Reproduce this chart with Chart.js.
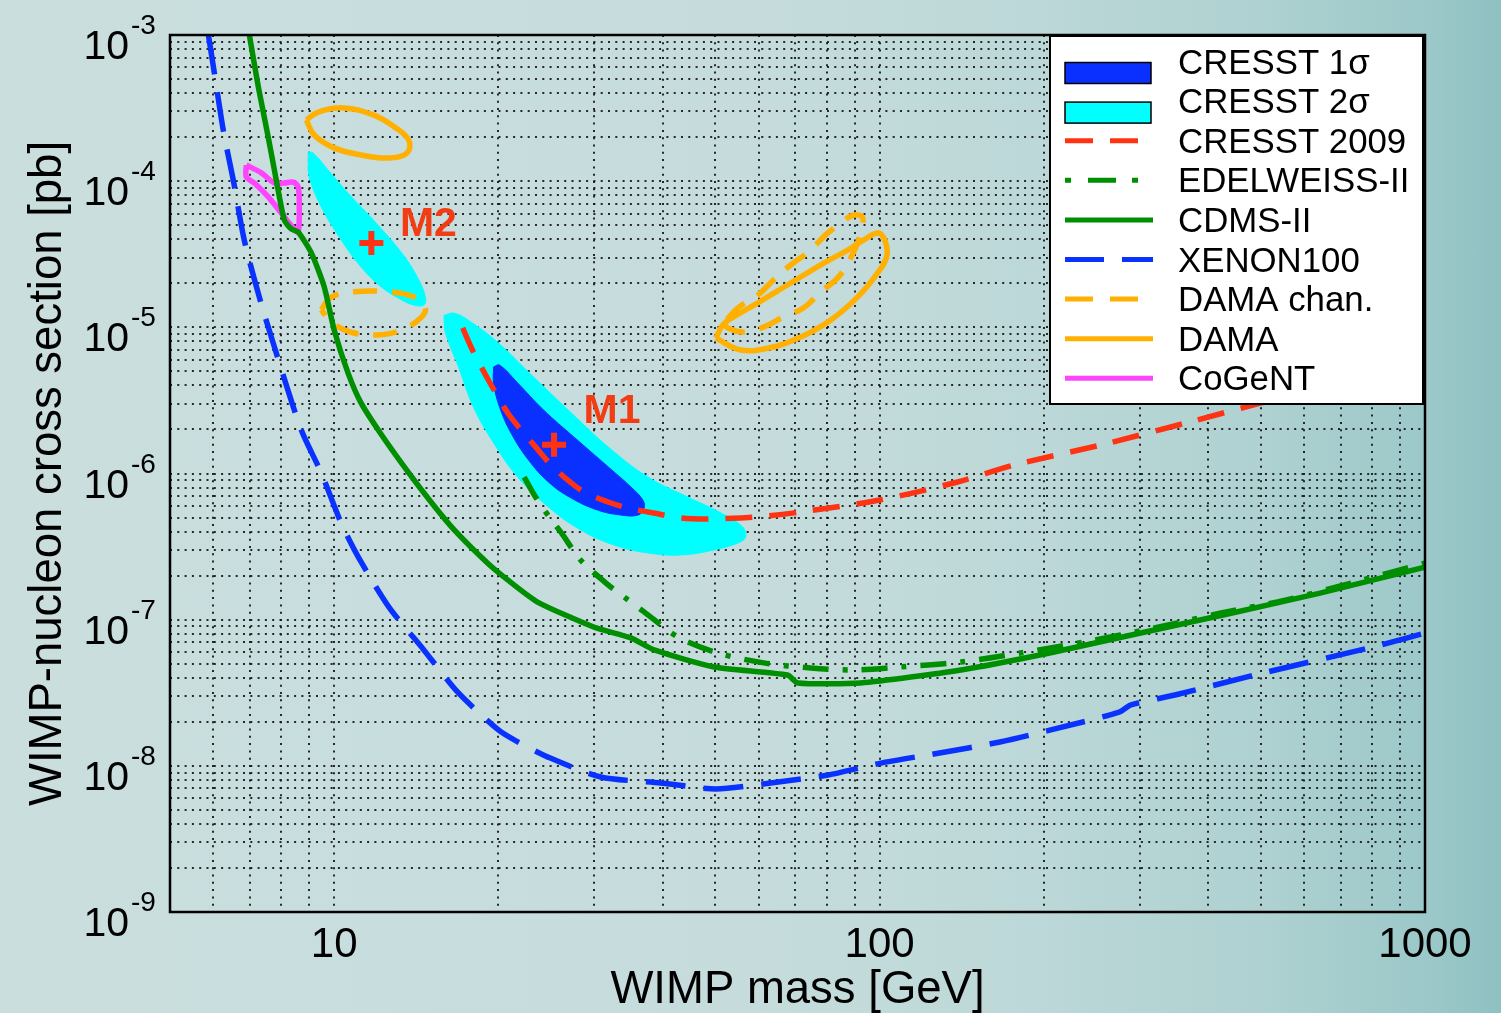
<!DOCTYPE html>
<html>
<head>
<meta charset="utf-8">
<title>WIMP exclusion limits</title>
<script src="https://cdn.jsdelivr.net/npm/chart.js@4.4.1/dist/chart.umd.min.js"></script>
<style>
  html, body { margin: 0; padding: 0; overflow: hidden; }
  body {
    width: 1501px; height: 1013px;
    background: linear-gradient(90deg, #cadede 0%, #c6dcdc 50%, #bdd8d8 68%, #afd1d1 84%, #9cc8c9 95%, #8fc1c2 100%);
  }
  #wrap { position: relative; width: 1501px; height: 1013px; }
</style>
</head>
<body>
<div id="wrap"><canvas id="limitChart"></canvas></div>
<script>
// WIMP mass [GeV] / cross section [pb]
const xenonMass = [5.88, 6.03, 6.26, 6.53, 6.84, 7.29, 7.77, 8.70, 9.47, 10.3, 11.1, 12.6, 14.6, 16.9, 20.0, 21.7, 24.9, 30.8, 39.7, 50.1, 63.1, 80.4, 100, 128, 167, 206, 275, 289, 348, 505, 803, 1000];
const xenonXsec = [1.0e-3, 5.5e-4, 2.24e-4, 1.02e-4, 3.96e-5, 1.61e-5, 7.33e-6, 1.99e-6, 1.01e-6, 4.58e-7, 2.64e-7, 1.22e-7, 6.21e-8, 3.15e-8, 1.76e-8, 1.46e-8, 1.13e-8, 8.39e-9, 7.64e-9, 6.95e-9, 7.64e-9, 8.65e-9, 1.04e-8, 1.22e-8, 1.46e-8, 1.76e-8, 2.33e-8, 2.61e-8, 3.05e-8, 4.32e-8, 6.50e-8, 8.11e-8];

const cdmsMass = [6.99, 7.26, 7.57, 7.83, 8.10, 8.34, 8.59, 9.08, 9.59, 10.0, 10.6, 11.2, 12.2, 13.7, 15.1, 16.6, 19.1, 20.8, 23.6, 29.9, 35.0, 38.6, 49.7, 67.8, 70.8, 92.3, 141, 205, 301, 443, 642, 1000];
const cdmsXsec = [1.0e-3, 4.41e-4, 2.00e-4, 1.02e-4, 5.42e-5, 4.71e-5, 4.49e-5, 3.23e-5, 1.89e-5, 9.59e-6, 4.88e-6, 3.04e-6, 1.85e-6, 1.01e-6, 6.28e-7, 4.11e-7, 2.44e-7, 1.87e-7, 1.32e-7, 8.91e-8, 7.50e-8, 6.21e-8, 4.75e-8, 4.18e-8, 3.69e-8, 3.69e-8, 4.53e-8, 5.92e-8, 8.11e-8, 1.11e-7, 1.52e-7, 2.29e-7];

const edwMass = [22.3, 23.4, 24.8, 26.1, 28.3, 31.5, 34.0, 37.0, 42.7, 50.5, 61.3, 74.8, 89.6, 109, 141, 181, 237, 319, 423, 554, 732, 1000];
const edwXsec = [9.46e-7, 6.90e-7, 5.04e-7, 3.92e-7, 2.56e-7, 1.78e-7, 1.43e-7, 1.13e-7, 7.61e-8, 5.92e-8, 5.06e-8, 4.67e-8, 4.53e-8, 4.75e-8, 5.13e-8, 5.92e-8, 7.03e-8, 8.77e-8, 1.11e-7, 1.36e-7, 1.78e-7, 2.44e-7];

const cresst09Mass = [17.2, 18.0, 19.4, 20.8, 22.0, 23.4, 24.8, 26.4, 28.7, 31.8, 34.5, 38.5, 43.2, 48.4, 55.6, 62.4, 71.6, 100, 139, 176, 255, 370, 499, 1000];
const cresst09Xsec = [9.90e-6, 6.78e-6, 4.03e-6, 2.60e-6, 1.99e-6, 1.52e-6, 1.18e-6, 9.46e-7, 7.47e-7, 6.38e-7, 5.81e-7, 5.37e-7, 4.97e-7, 4.89e-7, 4.97e-7, 5.12e-7, 5.45e-7, 6.59e-7, 8.75e-7, 1.14e-6, 1.57e-6, 2.25e-6, 3.03e-6, 5.79e-6];

// closed contours
const damaLowMass = [8.89, 9.35, 10.4, 11.8, 12.9, 13.7, 13.6, 12.6, 11.2, 10.0, 9.19];
const damaLowXsec = [2.62e-4, 2.97e-4, 3.17e-4, 2.84e-4, 2.35e-4, 1.91e-4, 1.56e-4, 1.44e-4, 1.51e-4, 1.69e-4, 2.07e-4];
const damaHighMass = [50.1, 55.6, 63.9, 71.7, 81.3, 91.1, 99.2, 103, 102.5, 99.5, 93.5, 87.4, 79.0, 68.7, 59.8, 54.0, 51.6];
const damaHighXsec = [8.45e-6, 7.00e-6, 7.34e-6, 8.59e-6, 1.12e-5, 1.61e-5, 2.36e-5, 3.03e-5, 3.84e-5, 4.42e-5, 3.96e-5, 3.38e-5, 2.75e-5, 2.01e-5, 1.47e-5, 1.18e-5, 1.04e-5];

const damaChanLowMass = [9.47, 9.87, 10.9, 12.6, 14.0, 14.7, 14.4, 13.3, 12.0, 10.7, 9.87];
const damaChanLowXsec = [1.32e-5, 1.61e-5, 1.75e-5, 1.75e-5, 1.61e-5, 1.36e-5, 1.16e-5, 9.59e-6, 8.87e-6, 9.29e-6, 1.09e-5];
const damaChanHighMass = [51.8, 52.7, 56.1, 61.1, 66.7, 72.6, 78.0, 83.8, 88.5, 92.0, 93.1, 89.6, 85.5, 79.6, 74.8, 68.7, 63.9, 59.8, 55.0];
const damaChanHighXsec = [1.07e-5, 9.89e-6, 9.29e-6, 1.00e-5, 1.18e-5, 1.36e-5, 1.75e-5, 2.18e-5, 2.98e-5, 4.20e-5, 5.60e-5, 5.87e-5, 5.26e-5, 4.29e-5, 3.38e-5, 2.67e-5, 2.11e-5, 1.66e-5, 1.36e-5];

const cogentMass = [6.90, 7.35, 7.77, 8.10, 8.41, 8.59, 8.63, 8.59, 8.41, 8.00, 7.57, 7.14, 6.90];
const cogentXsec = [1.29e-4, 1.14e-4, 9.71e-5, 9.71e-5, 9.86e-5, 9.12e-5, 6.65e-5, 4.49e-5, 4.79e-5, 6.05e-5, 7.80e-5, 9.71e-5, 1.07e-4];

const cresst2sLowMass = [8.96, 9.15, 9.75, 10.6, 11.8, 13.3, 14.2, 14.7, 14.6, 14.0, 13.3, 12.2, 11.2, 10.3, 9.47, 9.00, 8.96];
const cresst2sLowXsec = [1.58e-4, 1.56e-4, 1.19e-4, 8.29e-5, 5.42e-5, 3.23e-5, 2.21e-5, 1.61e-5, 1.42e-5, 1.42e-5, 1.54e-5, 1.89e-5, 2.59e-5, 3.96e-5, 6.65e-5, 1.07e-4, 1.40e-4];
const cresst2sHighMass = [15.9, 16.6, 17.8, 20.0, 23.0, 27.2, 31.8, 37.6, 44.5, 51.2, 56.1, 56.8, 55.0, 49.7, 43.2, 37.6, 32.6, 28.3, 24.7, 21.7, 19.6, 18.0, 16.9, 16.0, 15.9];
const cresst2sHighXsec = [1.21e-5, 1.25e-5, 1.09e-5, 7.82e-6, 4.72e-6, 2.60e-6, 1.52e-6, 9.46e-7, 6.90e-7, 5.37e-7, 4.31e-7, 3.68e-7, 3.35e-7, 3.00e-7, 2.77e-7, 2.86e-7, 3.24e-7, 4.11e-7, 5.90e-7, 9.46e-7, 1.62e-6, 2.85e-6, 5.36e-6, 9.14e-6, 1.16e-5];
const cresst1sMass = [19.6, 20.1, 21.7, 24.2, 27.5, 31.8, 35.0, 36.8, 37.0, 36.1, 33.5, 30.4, 27.2, 24.7, 22.7, 21.1, 20.1, 19.6];
const cresst1sXsec = [5.36e-6, 5.52e-6, 4.16e-6, 2.72e-6, 1.78e-6, 1.11e-6, 8.09e-7, 6.59e-7, 5.81e-7, 5.20e-7, 5.20e-7, 5.62e-7, 6.79e-7, 8.75e-7, 1.24e-6, 1.89e-6, 2.85e-6, 4.16e-6];

// best fit points
const bestFitLabels = ['M1', 'M2'];
const bestFitMass = [25.3, 11.7];
const bestFitXsec = [1.57e-6, 3.78e-5];

// axes
const xRange = [5, 1000];
const yRange = [1e-9, 1e-3];
const xTickLabels = [10, 100, 1000];
const yTickPowers = [-3, -4, -5, -6, -7, -8, -9];
const legendLabels = ['CRESST 1σ', 'CRESST 2σ', 'CRESST 2009', 'EDELWEISS-II', 'CDMS-II', 'XENON100', 'DAMA chan.', 'DAMA', 'CoGeNT'];

const font = '"Liberation Sans", Arial, Helvetica, sans-serif';
const red = '#ff3314';
const styles = {
  'CRESST 1σ':    { fill: '#0a30ff' },
  'CRESST 2σ':    { fill: '#00ffff' },
  'CRESST 2009':  { color: red,       dash: [27, 17], legendDash: [28, 17] },
  'EDELWEISS-II': { color: '#008f00', dash: [26, 14, 5, 14], legendDash: [6, 17, 28, 16] },
  'CDMS-II':      { color: '#008f00', dash: [] },
  'XENON100':     { color: '#0a32ff', dash: [40, 18], legendDash: [39, 18] },
  'DAMA chan.':   { color: '#ffb000', dash: [24, 15], legendDash: [28, 17] },
  'DAMA':         { color: '#ffb000', dash: [] },
  'CoGeNT':       { color: '#ff44ff', dash: [] }
};

function pts(mass, xsec) {
  return mass.map((m, i) => ({ x: m, y: xsec[i] }));
}
function loop(mass, xsec) {
  const p = pts(mass, xsec);
  p.push({ x: mass[0], y: xsec[0] });
  return p;
}

// grid at 1..9 x 10^n
function gridValues(lo, hi) {
  const out = [];
  for (let e = Math.floor(Math.log10(lo)); e <= Math.ceil(Math.log10(hi)); e++) {
    for (let k = 1; k < 10; k++) {
      const v = Number((k * Math.pow(10, e)).toPrecision(3));
      if (v >= lo && v <= hi) out.push(v);
    }
  }
  return out;
}
const xGrid = gridValues(xRange[0], xRange[1]);
const yGrid = gridValues(yRange[0], yRange[1]);

function curve(name, data, tension) {
  const s = styles[name];
  return {
    label: name, data: data, showLine: true, pointRadius: 0,
    borderColor: s.color, borderWidth: 5.5, borderDash: s.dash,
    borderCapStyle: 'butt', tension: tension, fill: false
  };
}
function area(name, data) {
  const s = styles[name];
  return {
    label: name, data: data, showLine: true, pointRadius: 0,
    borderColor: s.fill, borderWidth: 1, backgroundColor: s.fill,
    tension: 0.4, fill: 'shape'
  };
}

const overlay = {
  id: 'overlay',
  afterDraw(chart) {
    const ctx = chart.ctx;
    const a = chart.chartArea;
    const sx = chart.scales.x, sy = chart.scales.y;
    ctx.save();

    // frame
    ctx.strokeStyle = '#000';
    ctx.lineWidth = 2.5;
    ctx.strokeRect(a.left, a.top, a.right - a.left, a.bottom - a.top);

    // best fit labels
    ctx.fillStyle = '#f23c14';
    ctx.font = 'bold 41px ' + font;
    ctx.textAlign = 'center';
    ctx.textBaseline = 'alphabetic';
    const offs = [[58, -37], [57, -22]];
    bestFitLabels.forEach((t, i) => {
      const px = sx.getPixelForValue(bestFitMass[i]) + offs[i][0];
      const py = sy.getPixelForValue(bestFitXsec[i]) + offs[i][1];
      ctx.fillText(t, px, py + 15);
    });

    // tick labels
    ctx.fillStyle = '#000';
    ctx.font = '42px ' + font;
    xTickLabels.forEach(v => {
      ctx.fillText(String(v), sx.getPixelForValue(v), a.bottom + 45);
    });
    yTickPowers.forEach(p => {
      const y = sy.getPixelForValue(Math.pow(10, p));
      ctx.textAlign = 'right';
      ctx.font = '41px ' + font;
      ctx.fillText('10', a.left - 41, y + 24);
      ctx.textAlign = 'left';
      ctx.font = '28px ' + font;
      ctx.fillText(String(p), a.left - 39, y - 1);
    });

    // axis titles
    ctx.font = '45.5px ' + font;
    ctx.textAlign = 'center';
    ctx.fillText('WIMP mass [GeV]', (a.left + a.right) / 2, a.bottom + 91);
    ctx.save();
    ctx.translate(61, (a.top + a.bottom) / 2);
    ctx.rotate(-Math.PI / 2);
    ctx.fillText('WIMP-nucleon cross section [pb]', 0, 0);
    ctx.restore();

    // legend box
    const lx = a.right - 375, ly = a.top + 1, lw = 373, lh = 368;
    ctx.fillStyle = '#fff';
    ctx.fillRect(lx, ly, lw, lh);
    ctx.strokeStyle = '#000';
    ctx.lineWidth = 2;
    ctx.strokeRect(lx, ly, lw, lh);
    legendLabels.forEach((label, i) => {
      const s = styles[label];
      const cy = ly + 25.5 + i * 39.6;
      const x0 = lx + 15, x1 = lx + 103;
      if (s.fill) {
        ctx.fillStyle = s.fill;
        ctx.fillRect(x0, cy + 1, 86, 21);
        ctx.strokeStyle = '#000';
        ctx.lineWidth = 1.5;
        ctx.strokeRect(x0, cy + 1, 86, 21);
      } else {
        ctx.strokeStyle = s.color;
        ctx.lineWidth = 5;
        ctx.setLineDash(s.legendDash || []);
        ctx.beginPath();
        ctx.moveTo(x0, cy);
        ctx.lineTo(x1, cy);
        ctx.stroke();
        ctx.setLineDash([]);
      }
      ctx.fillStyle = '#000';
      ctx.font = '34.8px ' + font;
      ctx.textAlign = 'left';
      ctx.fillText(label, lx + 128, cy + 12);
    });
    ctx.restore();
  }
};

const gridColor = 'rgba(20, 20, 20, 0.9)';

// datasets listed top-most first
const datasets = [
  {
    label: 'best fit', data: pts(bestFitMass, bestFitXsec), showLine: false,
    pointStyle: 'cross', pointRadius: 12, pointBorderWidth: 6,
    pointBorderColor: red, borderColor: red
  },
  curve('CRESST 2009', pts(cresst09Mass, cresst09Xsec), 0.3),
  curve('CDMS-II', pts(cdmsMass, cdmsXsec), 0.2),
  curve('EDELWEISS-II', pts(edwMass, edwXsec), 0.3),
  curve('XENON100', pts(xenonMass, xenonXsec), 0.25),
  curve('DAMA', loop(damaLowMass, damaLowXsec), 0.4),
  curve('DAMA', loop(damaHighMass, damaHighXsec), 0.4),
  curve('DAMA chan.', loop(damaChanLowMass, damaChanLowXsec), 0.4),
  curve('DAMA chan.', loop(damaChanHighMass, damaChanHighXsec), 0.4),
  curve('CoGeNT', loop(cogentMass, cogentXsec), 0.3),
  area('CRESST 1σ', loop(cresst1sMass, cresst1sXsec)),
  area('CRESST 2σ', loop(cresst2sLowMass, cresst2sLowXsec)),
  area('CRESST 2σ', loop(cresst2sHighMass, cresst2sHighXsec))
];
datasets.forEach((d, i) => { d.order = i; });

const ctx = document.getElementById('limitChart').getContext('2d');
new Chart(ctx, {
  type: 'scatter',
  data: { datasets: datasets },
  options: {
    responsive: true,
    maintainAspectRatio: false,
    animation: false,
    events: [],
    layout: { padding: { left: 170, right: 76, top: 35, bottom: 101 } },
    plugins: {
      legend: { display: false },
      tooltip: { enabled: false }
    },
    scales: {
      x: {
        type: 'logarithmic', min: xRange[0], max: xRange[1],
        afterBuildTicks: s => { s.ticks = xGrid.map(v => ({ value: v })); },
        ticks: { display: false },
        grid: { color: gridColor, lineWidth: 2, drawTicks: false },
        border: { display: false, dash: [2, 5.3] }
      },
      y: {
        type: 'logarithmic', min: yRange[0], max: yRange[1],
        afterBuildTicks: s => { s.ticks = yGrid.map(v => ({ value: v })); },
        ticks: { display: false },
        grid: { color: gridColor, lineWidth: 2, drawTicks: false },
        border: { display: false, dash: [2, 5.3] }
      }
    }
  },
  plugins: [overlay]
});
</script>
</body>
</html>
